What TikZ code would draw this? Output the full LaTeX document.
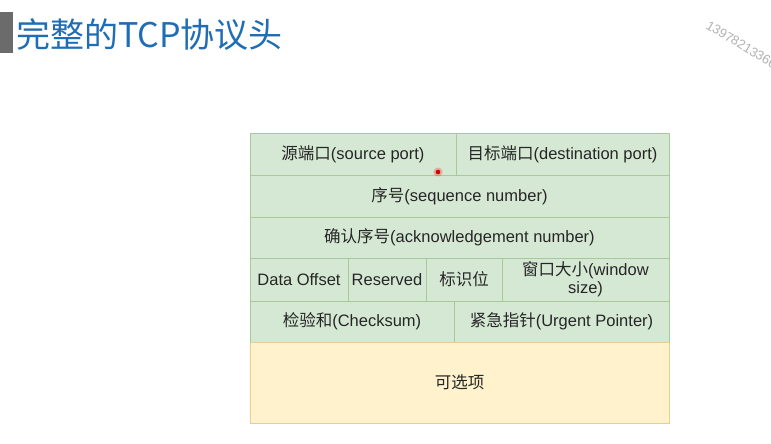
\documentclass[tikz,border=0pt]{standalone}
\usepackage{fontspec}
\setmainfont{Liberation Sans}
\newfontfamily\cjk{Noto Sans CJK SC}
\definecolor{titleblue}{HTML}{1F6DB4}
\definecolor{barGray}{HTML}{6B6B6B}
\definecolor{cellGreen}{HTML}{D5E8D4}
\definecolor{lineGreen}{HTML}{A9C99A}
\definecolor{cellYellow}{HTML}{FFF2CC}
\definecolor{lineYellow}{HTML}{E3CF93}
\definecolor{txt}{HTML}{262626}
\tikzset{
  field/.style={draw=lineGreen, fill=cellGreen, line width=1pt, rectangle,
    anchor=north west, inner sep=0pt, outer sep=0pt, text=txt, align=center,
    font=\fontsize{16.5}{18}\selectfont},
  optfield/.style={field, draw=lineYellow, fill=cellYellow},
}
\newcommand{\zh}[1]{{\cjk #1}}
\begin{document}
\begin{tikzpicture}[x=1pt,y=-1pt]
\useasboundingbox (0,0) rectangle (771,444);
\fill[white] (0,0) rectangle (771,444);

% heading
\fill[barGray] (0,12) rectangle (13,53);
\node[anchor=west, inner sep=0pt, text=titleblue, font=\cjk\fontsize{34}{38}\selectfont]
  (title) at (16,35) {完整的TCP协议头};

% watermark
\node[anchor=base west, inner sep=0pt, rotate=-31, text=black!30,
  font=\fontsize{13}{14}\selectfont] (mark) at (705,28) {13978213366};

% header rows
\node[field, minimum width=206pt, minimum height=42pt] (src) at (250,133)
  {\zh{源端口}(source port)};
\node[field, minimum width=213pt, minimum height=42pt] (dst) at (456,133)
  {\zh{目标端口}(destination port)};
\node[field, minimum width=419pt, minimum height=42pt] (seq) at (250,175)
  {\zh{序号}(sequence number)};
\node[field, minimum width=419pt, minimum height=41pt] (ack) at (250,217)
  {\zh{确认序号}(acknowledgement number)};
\node[field, minimum width=98pt, minimum height=43pt] (off) at (250,258)
  {Data Offset};
\node[field, minimum width=78pt, minimum height=43pt] (res) at (348,258)
  {Reserved};
\node[field, minimum width=76pt, minimum height=43pt] (flags) at (426,258)
  {\zh{标识位}};
\node[field, minimum width=167pt, minimum height=43pt] (win) at (502,258)
  {\zh{窗口大小}(window\\size)};
\node[field, minimum width=204pt, minimum height=41pt] (chk) at (250,301)
  {\zh{检验和}(Checksum)};
\node[field, minimum width=215pt, minimum height=41pt] (urg) at (454,301)
  {\zh{紧急指针}(Urgent Pointer)};
\node[optfield, minimum width=419pt, minimum height=81pt] (opt) at (250,342)
  {\zh{可选项}};

% pointer dot
\fill[red, opacity=0.25] (438,172) circle (4.5pt);
\fill[red!85!black] (438,172) circle (2.3pt);
\end{tikzpicture}
\end{document}
